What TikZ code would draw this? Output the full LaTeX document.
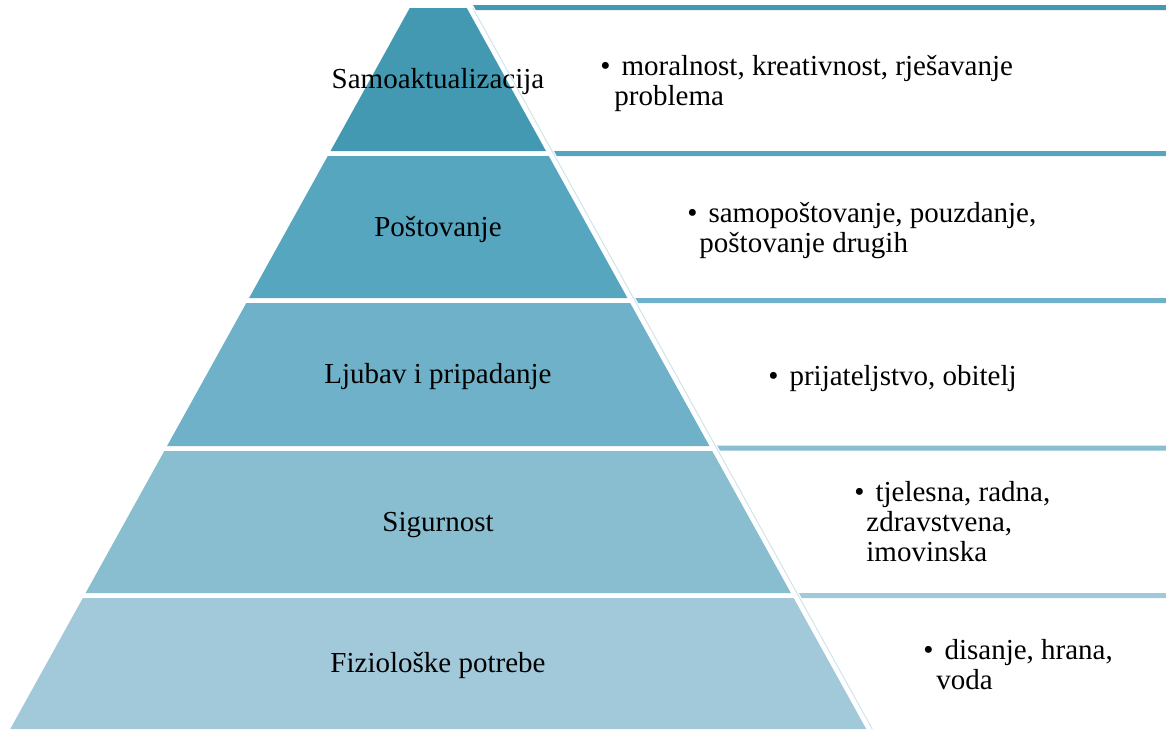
\documentclass[tikz,border=0pt]{standalone}
\usepackage{fontspec}
\setmainfont{Liberation Serif}

\definecolor{levela}{HTML}{4499B2}
\definecolor{levelb}{HTML}{57A6BF}
\definecolor{levelc}{HTML}{6FB1C8}
\definecolor{leveld}{HTML}{89BDD0}
\definecolor{levele}{HTML}{A1C9DA}
\definecolor{edgeline}{HTML}{CFE4EC}

% left and right edge of the pyramid at height y (pixels, y down)
\newcommand{\pyrL}[1]{(438.25-28.5-0.5541*((#1)-8))}
\newcommand{\pyrR}[1]{(438.25+28.5+0.5541*((#1)-8))}

\tikzset{
  levellabel/.style={font=\fontsize{14.5pt}{15pt}\selectfont, anchor=base, inner sep=0pt},
  itemtext/.style={font=\fontsize{14.5pt}{15pt}\selectfont, align=left, anchor=north west, inner sep=0pt},
}

\begin{document}
\begin{tikzpicture}[x=0.5pt,y=-0.5pt]
        \useasboundingbox (0,0) rectangle (1166,729);

        % draw the pyramid levels
        \foreach \t/\b/\col/\name/\txt in {
            8/151/levela/samo/Samoaktualizacija,
            156/298/levelb/post/Poštovanje,
            303/446/levelc/ljub/Ljubav i pripadanje,
            451/593/leveld/sigu/Sigurnost,
            598/729/levele/fizi/Fiziološke potrebe} {
                \fill[\col] ({\pyrL{\t}},\t) -- ({\pyrR{\t}},\t) -- ({\pyrR{\b}},\b) -- ({\pyrL{\b}},\b) -- cycle;
                \node[levellabel] (\name) at (438,{(\t+\b)/2+9}) {\txt};
        }

        % left edge of the list boxes
        \draw[edgeline, line width=0.5pt] ({\pyrR{8}+6},8) -- ({\pyrR{729}+6},729);

        % coloured top rules of the list boxes
        \foreach \y/\col in {7.5/levela, 153.5/levelb, 300.5/levelc, 448/leveld, 595.5/levele}
                \fill[\col] ({\pyrR{\y-2.5}+8},\y-2.5) -- (1166,\y-2.5) -- (1166,\y+2.5) -- ({\pyrR{\y+2.5}+8},\y+2.5) -- cycle;

        % draw the bullet items
        \foreach \x/\y/\name/\txt in {
            600/75/samoitem/{•\hspace{5.5pt}moralnost, kreativnost, rješavanje\\\hspace*{7pt}problema},
            687/222/postitem/{•\hspace{5.5pt}samopoštovanje, pouzdanje,\\\hspace*{6pt}poštovanje drugih},
            768/385/ljubitem/{•\hspace{5.5pt}prijateljstvo, obitelj},
            854/501/siguitem/{•\hspace{5.5pt}tjelesna, radna,\\\hspace*{6pt}zdravstvena,\\\hspace*{6pt}imovinska},
            923/659/fiziitem/{•\hspace{5.5pt}disanje, hrana,\\\hspace*{6.5pt}voda}}
                \node[itemtext] (\name) at (\x,\y-21) {\strut\txt};

\end{tikzpicture}
\end{document}
